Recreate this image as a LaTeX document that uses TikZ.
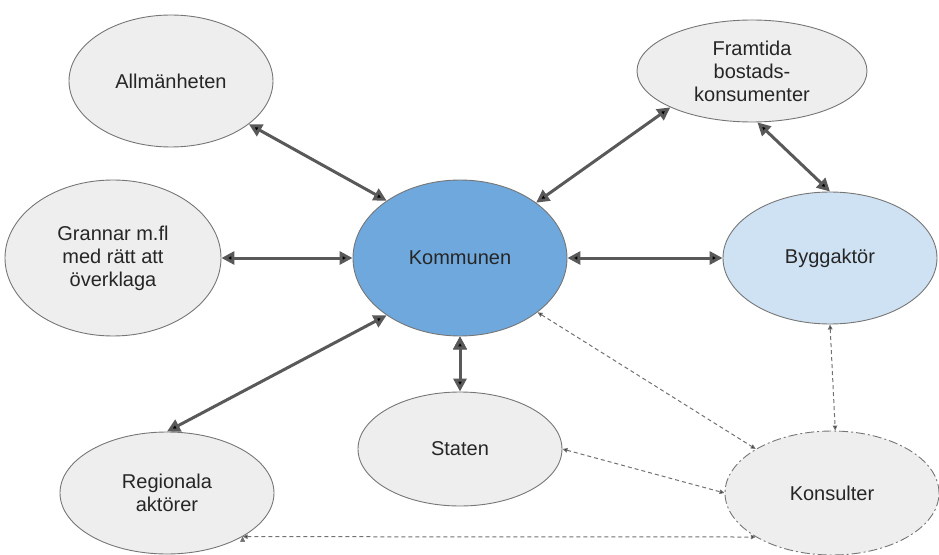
\documentclass[tikz,border=0pt]{standalone}
\usepackage{fontspec}
\setmainfont{Liberation Sans}
\usetikzlibrary{shapes.geometric, positioning, arrows.meta}
\definecolor{nodefill}{HTML}{EEEEEE}
\definecolor{nodeline}{HTML}{767676}
\definecolor{kommfill}{HTML}{6FA8DC}
\definecolor{byggfill}{HTML}{CFE2F3}
\definecolor{arrowgray}{HTML}{595959}
\tikzset{
  on grid,
  actor/.style={ellipse, draw=nodeline, fill=nodefill, line width=0.9pt,
    inner sep=0pt, align=center, text=black!85,
    font=\fontsize{20}{23}\selectfont},
  link/.style={<->, >={Triangle[length=13pt,width=13pt]}, draw=arrowgray,
    line width=3pt},
  loose/.style={<->, >={Triangle[length=5pt,width=4.5pt]}, draw=arrowgray!85,
    line width=1pt, dash pattern=on 4pt off 3pt},
}

\begin{document}
\begin{tikzpicture}[x=1pt, y=1pt]
  \useasboundingbox (-460,258) rectangle (479,-296);

  % actors
  \node[actor, fill=kommfill, minimum width=214pt, minimum height=156pt] (komm) at (0,0) {Kommunen};
  \node[actor, minimum width=204pt, minimum height=132pt, above left=177pt and 289pt of komm] (allm) {Allmänheten};
  \node[actor, minimum width=230pt, minimum height=102pt, above right=187pt and 292pt of komm] (fram) {Framtida\\bostads-\\konsumenter};
  \node[actor, minimum width=216pt, minimum height=156pt, left=347pt of komm] (gran) {Grannar m.fl\\med rätt att\\överklaga};
  \node[actor, fill=byggfill, minimum width=214pt, minimum height=132pt, right=370pt of komm] (bygg) {Byggaktör};
  \node[actor, minimum width=204pt, minimum height=114pt, below=191pt of komm] (stat) {Staten};
  \node[actor, minimum width=214pt, minimum height=122pt, below left=235pt and 293pt of komm] (regi) {Regionala\\aktörer};
  \node[actor, minimum width=214pt, minimum height=124pt, below right=235pt and 372pt of komm,
    dash pattern=on 9pt off 3pt on 2pt off 3pt] (kons) {Konsulter};

  % strong ties
  \draw[link] (allm.-29) edge (komm.142)
    (fram.204) edge (komm.36)
    (fram.-84) edge (bygg.90)
    (gran.east) edge (komm.west)
    (komm.east) edge (bygg.west)
    (komm.218) edge (regi.90)
    (komm.south) edge (stat.north);

  % loose ties
  \draw[loose] (komm.-35) edge (kons.150)
    (stat.east) edge (kons.west)
    (bygg.south) edge (kons.87)
    (regi.-30) edge (kons.210);
\end{tikzpicture}
\end{document}
